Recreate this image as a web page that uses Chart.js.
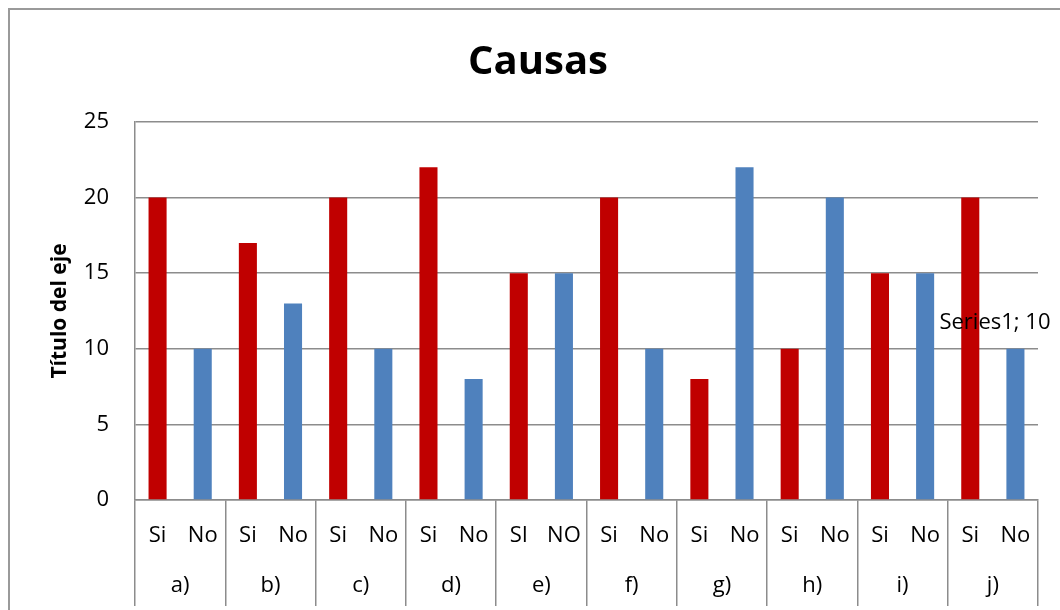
<!DOCTYPE html>
<html lang="es">
<head>
    <meta charset="UTF-8">
    <title>Causas</title>
    <script src="https://cdn.jsdelivr.net/npm/chart.js"></script>
    <style>
        html, body {
            margin: 0;
            padding: 0;
            background: white;
            overflow: hidden;
            width: 1060px;
            height: 610px;
        }
        .marco {
            position: absolute;
            left: 8px;
            top: 8px;
            width: 1100px;
            height: 700px;
            border: 2px solid #9a9a9a;
        }
        .lienzo {
            position: absolute;
            left: 0;
            top: 0;
            width: 1076px;
            height: 640px;
        }
    </style>
</head>
<body>
    <div class="marco"></div>
    <div class="lienzo"><canvas id="causasChart" width="1076" height="640"></canvas></div>
    <script>
        const categorias = ['a)', 'b)', 'c)', 'd)', 'e)', 'f)', 'g)', 'h)', 'i)', 'j)'];
        const respuestas = ['Si', 'No', 'Si', 'No', 'Si', 'No', 'Si', 'No', 'SI', 'NO',
                            'Si', 'No', 'Si', 'No', 'Si', 'No', 'Si', 'No', 'Si', 'No'];
        const valores = [20, 10, 17, 13, 20, 10, 22, 8, 15, 15,
                         20, 10, 8, 22, 10, 20, 15, 15, 20, 10];
        const indiceEtiqueta = 19;

        const ROJO = '#C00000';
        const AZUL = '#4F81BD';
        const GRIS = '#8c8c8c';
        const fuente = '"Open Sans", "Liberation Sans", sans-serif';

        // separadores solo entre grupos (cada 2 barras)
        const separador = ctx => (ctx.index === undefined || ctx.index % 2 === 0) ? GRIS : 'rgba(0,0,0,0)';

        const etiquetaPlugin = {
            id: 'etiquetaSerie',
            afterDatasetsDraw(chart) {
                const meta = chart.getDatasetMeta(0);
                const bar = meta.data[indiceEtiqueta];
                const c = chart.ctx;
                c.save();
                c.font = '22px ' + fuente;
                c.fillStyle = '#000';
                c.textAlign = 'left';
                c.textBaseline = 'middle';
                c.fillText(chart.data.datasets[0].label + '; ' + valores[indiceEtiqueta], bar.x - 76, bar.y - 26);
                c.restore();
            }
        };

        const ctx = document.getElementById('causasChart').getContext('2d');
        new Chart(ctx, {
            type: 'bar',
            data: {
                labels: respuestas,
                datasets: [{
                    label: 'Series1',
                    data: valores,
                    backgroundColor: c => c.dataIndex % 2 === 0 ? ROJO : AZUL,
                    barPercentage: 0.4,
                    categoryPercentage: 1.0
                }]
            },
            options: {
                responsive: false,
                animation: false,
                layout: { padding: 0 },
                plugins: {
                    legend: { display: false },
                    tooltip: { enabled: false },
                    title: {
                        display: true,
                        text: 'Causas',
                        color: '#000',
                        font: { family: fuente, size: 40, weight: 'bold' },
                        padding: { top: 39, bottom: 35 }
                    }
                },
                scales: {
                    x: {
                        position: 'bottom',
                        offset: true,
                        grid: {
                            offset: true,
                            drawOnChartArea: false,
                            drawTicks: true,
                            tickLength: 50,
                            color: separador,
                            lineWidth: 1.5
                        },
                        border: { display: true, color: GRIS, width: 1.5 },
                        ticks: {
                            color: '#000',
                            font: { family: fuente, size: 22 },
                            padding: -27,
                            maxRotation: 0,
                            autoSkip: false
                        },
                        afterFit: s => { s.height = 50; }
                    },
                    x2: {
                        type: 'category',
                        labels: categorias,
                        position: 'bottom',
                        offset: true,
                        grid: {
                            offset: true,
                            drawOnChartArea: false,
                            drawTicks: true,
                            tickLength: 56,
                            color: GRIS,
                            lineWidth: 1.5
                        },
                        border: { display: false },
                        ticks: {
                            color: '#000',
                            font: { family: fuente, size: 22 },
                            padding: -33,
                            maxRotation: 0,
                            autoSkip: false
                        },
                        afterFit: s => { s.height = 90; }
                    },
                    y: {
                        min: 0,
                        max: 25,
                        ticks: {
                            stepSize: 5,
                            color: '#000',
                            font: { family: fuente, size: 22 },
                            padding: 26
                        },
                        grid: { color: GRIS, lineWidth: 1.5, drawTicks: false },
                        border: { display: true, color: GRIS, width: 1.5 },
                        title: {
                            display: true,
                            text: 'Título del eje',
                            color: '#000',
                            font: { family: fuente, size: 21, weight: 'bold' },
                            padding: { top: 47, bottom: 0 }
                        },
                        afterFit: s => { s.width = 135; }
                    },
                    // margen derecho vacío, para que el título quede centrado en todo el gráfico
                    margen: {
                        type: 'linear',
                        position: 'right',
                        grid: { display: false },
                        border: { display: false },
                        ticks: { display: false },
                        afterFit: s => { s.width = 38; }
                    }
                }
            },
            plugins: [etiquetaPlugin]
        });
    </script>
</body>
</html>
